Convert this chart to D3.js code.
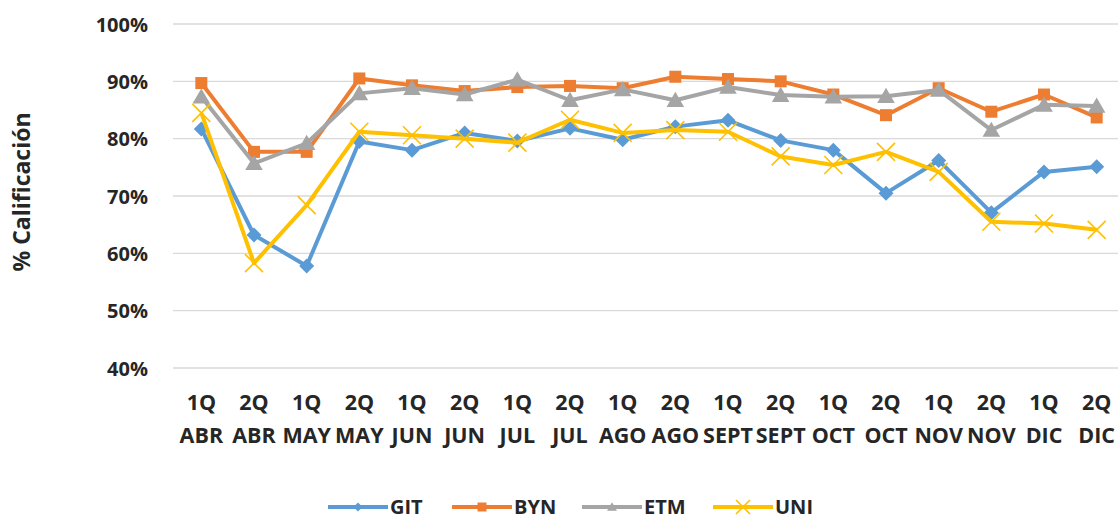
<!DOCTYPE html>
<html><head><meta charset="utf-8">
<script src="https://cdn.jsdelivr.net/npm/d3@7"></script>
<style>
body{margin:0;background:#fff;}
svg{display:block;}
</style></head>
<body>
<svg id="chart" width="1118" height="520"></svg>
<script>
const quincenas = ["1Q","2Q","1Q","2Q","1Q","2Q","1Q","2Q","1Q","2Q","1Q","2Q","1Q","2Q","1Q","2Q","1Q","2Q"];
const meses = ["ABR","ABR","MAY","MAY","JUN","JUN","JUL","JUL","AGO","AGO","SEPT","SEPT","OCT","OCT","NOV","NOV","DIC","DIC"];
const categories = quincenas.map((q,i)=>q+" "+meses[i]);
const GIT = [0.817,0.632,0.578,0.795,0.78,0.81,0.796,0.818,0.798,0.821,0.832,0.797,0.78,0.705,0.762,0.671,0.742,0.751];
const BYN = [0.897,0.777,0.777,0.905,0.893,0.883,0.89,0.892,0.888,0.908,0.904,0.9,0.877,0.841,0.888,0.847,0.877,0.837];
const ETM = [0.873,0.757,0.792,0.879,0.888,0.877,0.903,0.867,0.886,0.867,0.89,0.876,0.873,0.874,0.885,0.815,0.859,0.857];
const UNI = [0.845,0.583,0.684,0.812,0.806,0.80,0.793,0.833,0.81,0.815,0.812,0.769,0.754,0.777,0.742,0.655,0.652,0.641];
const seriesNames = ["GIT","BYN","ETM","UNI"];
const yTicks = [0.4,0.5,0.6,0.7,0.8,0.9,1.0];
const yTitle = "% Calificación";

const series = [
  {name:"GIT", values:GIT, color:"#5B9BD5", marker:"diamond"},
  {name:"BYN", values:BYN, color:"#ED7D31", marker:"square"},
  {name:"ETM", values:ETM, color:"#A5A5A5", marker:"triangle"},
  {name:"UNI", values:UNI, color:"#FFC000", marker:"x"}
];

const FONT = "'Open Sans', sans-serif";
const TEXT = "#262626";
const svg = d3.select("#chart");
const mLeft = 175, mRight = 1123, mTop = 24, mBottom = 368;
const x = d3.scaleBand().domain(categories).range([mLeft, mRight]).padding(0);
const y = d3.scaleLinear().domain([0.4, 1.0]).range([mBottom, mTop]);
const cx = c => x(c) + x.bandwidth()/2;

// gridlines
svg.append("g").selectAll("line").data(yTicks).join("line")
  .attr("x1", mLeft-2).attr("x2", 1118)
  .attr("y1", d=>y(d)).attr("y2", d=>y(d))
  .attr("stroke", "#d9d9d9").attr("stroke-width", 1.3);

// y axis labels
const yAxis = d3.axisLeft(y).tickValues(yTicks).tickFormat(d3.format(".0%")).tickSize(0).tickPadding(0);
const gy = svg.append("g").attr("transform", `translate(148,0)`).call(yAxis);
gy.select(".domain").remove();
gy.selectAll("text").attr("font-family",FONT).attr("font-weight","700")
  .attr("font-size","20px").attr("fill",TEXT).attr("dy","0.35em");

// x axis labels (two lines)
const xAxis = d3.axisBottom(x).tickSize(0).tickFormat("");
const gx = svg.append("g").attr("transform", `translate(0,${mBottom})`).call(xAxis);
gx.select(".domain").remove();
gx.selectAll(".tick").each(function(d,i){
  const t = d3.select(this).append("text")
    .attr("font-family",FONT)
    .attr("font-weight","700").attr("font-size","21.5px").attr("fill",TEXT)
    .attr("text-anchor","middle");
  t.append("tspan").attr("x",0).attr("y",42).text(quincenas[i]);
  t.append("tspan").attr("x",0).attr("y",75).text(meses[i]);
});

// y title
svg.append("text").attr("transform","translate(30,192) rotate(-90)")
  .attr("text-anchor","middle").attr("font-family",FONT)
  .attr("font-weight","700").attr("font-size","23px").attr("fill",TEXT).text(yTitle);

function drawMarker(g, type, color, s){
  if(type==="diamond"){
    g.append("path").attr("d",`M0,${-s}L${s},0L0,${s}L${-s},0Z`).attr("fill",color);
  } else if(type==="square"){
    g.append("rect").attr("x",-s).attr("y",-s).attr("width",2*s).attr("height",2*s).attr("fill",color);
  } else if(type==="triangle"){
    g.append("path").attr("d",`M0,${-s*1.05}L${s*1.1},${s*0.85}L${-s*1.1},${s*0.85}Z`).attr("fill",color);
  } else {
    g.append("path").attr("d",`M${-s},${-s}L${s},${s}M${-s},${s}L${s},${-s}`).attr("stroke",color).attr("stroke-width",1.6).attr("fill","none");
  }
}
const markerSize = {diamond:7.5, square:6, triangle:8, x:9};

const line = d3.line().x((d,i)=>cx(categories[i])).y(d=>y(d));
series.forEach(s=>{
  const g = svg.append("g");
  g.append("path").datum(s.values).attr("d", line).attr("fill","none")
    .attr("stroke", s.color).attr("stroke-width", 4).attr("stroke-linejoin","round");
  s.values.forEach((v,i)=>{
    const m = g.append("g").attr("transform",`translate(${cx(categories[i])},${y(v)})`);
    drawMarker(m, s.marker, s.color, markerSize[s.marker]);
  });
});

// legend
const legendX = [328, 452, 582, 713];
const ly = 507;
series.forEach((s,i)=>{
  const g = svg.append("g").attr("transform",`translate(${legendX[i]},${ly})`);
  g.append("line").attr("x1",0).attr("x2",60).attr("y1",0).attr("y2",0).attr("stroke",s.color).attr("stroke-width",4);
  const m = g.append("g").attr("transform","translate(30,0)");
  drawMarker(m, s.marker, s.color, s.marker==="x"?7:4.5);
  g.append("text").attr("x",62).attr("y",0).attr("dy","0.35em")
    .attr("font-family",FONT)
    .attr("font-weight","700").attr("font-size","20px").attr("fill",TEXT).text(seriesNames[i]);
});
</script>
</body></html>
